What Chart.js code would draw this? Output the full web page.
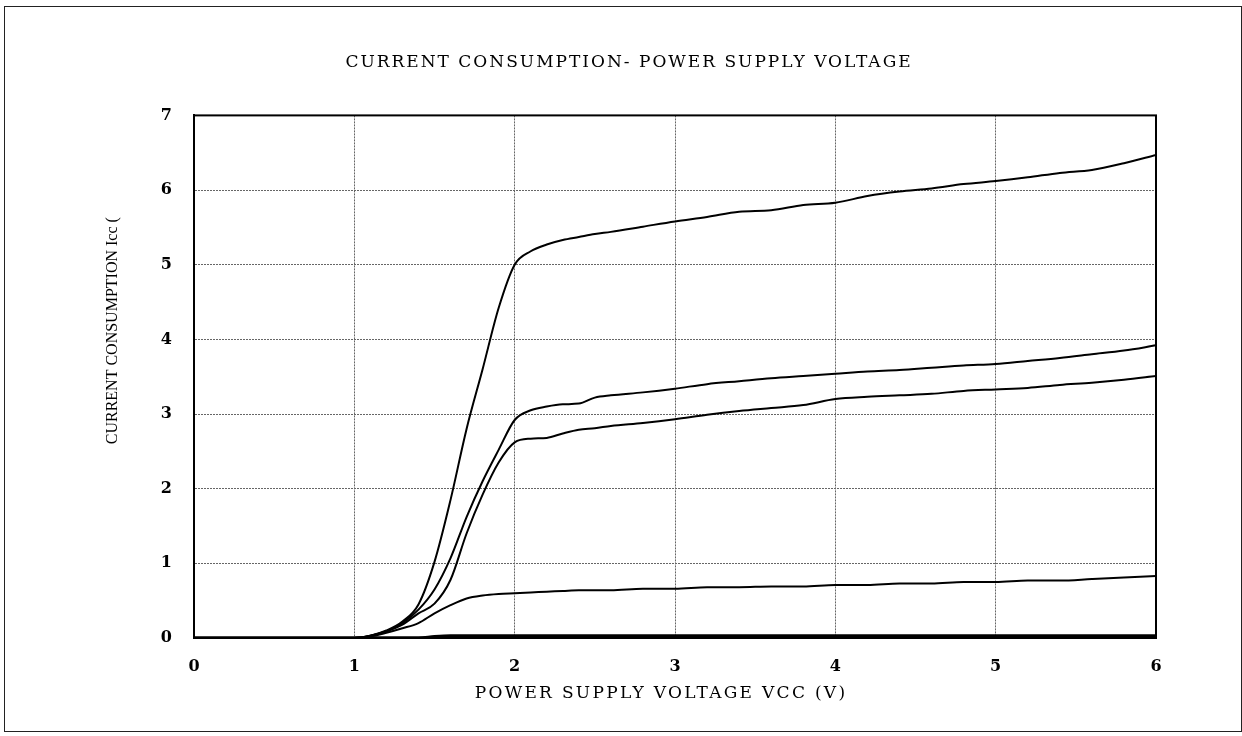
<!DOCTYPE html>
<html><head><meta charset="utf-8">
<script src="https://cdn.jsdelivr.net/npm/chart.js@4.4.1/dist/chart.umd.min.js"></script>
<style>
html,body{margin:0;padding:0;background:#fff;overflow:hidden}
#wrap{position:relative;width:1242px;height:736px}
#frame{position:absolute;left:4px;top:6px;width:1238px;height:726px;border:1px solid #222;box-sizing:border-box;pointer-events:none}
</style></head><body>
<div id="wrap"><canvas id="c" width="1242" height="736"></canvas><div id="frame"></div></div>
<script>
// ---- data ----
const voltage = [0, 1.0, 1.1, 1.2, 1.3, 1.4, 1.5, 1.6, 1.7, 1.8, 1.9, 2.0, 2.1, 2.2, 2.3, 2.4, 2.5, 2.6, 2.8, 3.0, 3.2, 3.4, 3.6, 3.8, 4.0, 4.2, 4.4, 4.6, 4.8, 5.0, 5.2, 5.4, 5.6, 5.8, 6.0];
const iccA = [0, 0, 0.03, 0.10, 0.22, 0.45, 1.02, 1.85, 2.80, 3.60, 4.42, 5.00, 5.18, 5.27, 5.33, 5.37, 5.41, 5.44, 5.51, 5.58, 5.64, 5.71, 5.73, 5.80, 5.83, 5.92, 5.98, 6.02, 6.08, 6.12, 6.17, 6.23, 6.27, 6.36, 6.47];
const iccB = [0, 0, 0.03, 0.09, 0.20, 0.38, 0.65, 1.07, 1.62, 2.10, 2.52, 2.92, 3.05, 3.10, 3.13, 3.14, 3.22, 3.25, 3.29, 3.34, 3.40, 3.44, 3.48, 3.51, 3.54, 3.57, 3.59, 3.62, 3.65, 3.67, 3.71, 3.75, 3.80, 3.85, 3.92];
const iccC = [0, 0, 0.03, 0.09, 0.18, 0.33, 0.46, 0.78, 1.40, 1.92, 2.35, 2.62, 2.67, 2.68, 2.74, 2.79, 2.81, 2.84, 2.88, 2.93, 2.99, 3.04, 3.08, 3.12, 3.20, 3.23, 3.25, 3.27, 3.31, 3.33, 3.35, 3.39, 3.42, 3.46, 3.51];
const iccD = [0, 0, 0.02, 0.07, 0.13, 0.20, 0.33, 0.44, 0.53, 0.57, 0.59, 0.60, 0.61, 0.62, 0.63, 0.64, 0.64, 0.64, 0.66, 0.66, 0.68, 0.68, 0.69, 0.69, 0.71, 0.71, 0.73, 0.73, 0.75, 0.75, 0.77, 0.77, 0.79, 0.81, 0.83];
const iccE = [0, 0, 0, 0, 0, 0, 0, 0, 0, 0, 0, 0, 0, 0, 0, 0, 0, 0, 0, 0, 0, 0, 0, 0, 0, 0, 0, 0, 0, 0, 0, 0, 0, 0, 0];
const iccF = [0, 0, 0, 0, 0, 0, 0.02, 0.03, 0.03, 0.03, 0.03, 0.03, 0.03, 0.03, 0.03, 0.03, 0.03, 0.03, 0.03, 0.03, 0.03, 0.03, 0.03, 0.03, 0.03, 0.03, 0.03, 0.03, 0.03, 0.03, 0.03, 0.03, 0.03, 0.03, 0.03];
const xTicks = [0, 1, 2, 3, 4, 5, 6];
const yTicks = [0, 1, 2, 3, 4, 5, 6, 7];
const titleText = 'CURRENT CONSUMPTION- POWER SUPPLY VOLTAGE';
const xTitle = 'POWER SUPPLY VOLTAGE VCC (V)';
const yTitle = 'CURRENT CONSUMPTION Icc (';

const series = [
  {name: 'A', values: iccA, width: 2},
  {name: 'B', values: iccB, width: 2},
  {name: 'C', values: iccC, width: 2},
  {name: 'D', values: iccD, width: 2},
  {name: 'E', values: iccE, width: 3},
  {name: 'F', values: iccF, width: 3}
];

const SERIF = '"DejaVu Serif", "Liberation Serif", serif';
const YSERIF = '"Liberation Serif", "DejaVu Serif", serif';

const textTweaks = {
  id: 'textTweaks',
  beforeDraw(chart) {
    if (chart.__tw) return;
    chart.__tw = true;
    const ctx = chart.ctx;
    const tb = chart.titleBlock;
    const tbDraw = tb.draw;
    tb.draw = function (a) { ctx.save(); ctx.letterSpacing = '2px'; ctx.translate(51, 0); tbDraw.call(this, a); ctx.restore(); };
    const xs = chart.scales.x;
    const xDraw = xs.drawTitle;
    xs.drawTitle = function () { ctx.save(); ctx.letterSpacing = '2.3px'; ctx.translate(-14, 0); xDraw.call(this); ctx.restore(); };
    const ys = chart.scales.y;
    const yDraw = ys.drawTitle;
    ys.drawTitle = function () { ctx.save(); ctx.translate(0, -46); yDraw.call(this); ctx.restore(); };
  },
  afterDatasetsDraw(chart) {
    const {ctx, chartArea: a} = chart;
    ctx.save();
    ctx.strokeStyle = '#000';
    ctx.lineWidth = 2;
    ctx.strokeRect(a.left, a.top, a.right - a.left, a.bottom - a.top);
    ctx.restore();
  }
};

new Chart(document.getElementById('c'), {
  type: 'line',
  data: {
    datasets: series.map(s => ({
      label: s.name,
      data: voltage.map((v, i) => ({x: v, y: s.values[i]})),
      borderColor: '#000',
      backgroundColor: '#000',
      borderWidth: s.width,
      pointRadius: 0,
      cubicInterpolationMode: 'monotone',
      fill: false
    }))
  },
  options: {
    responsive: false,
    animation: false,
    events: [],
    layout: {padding: {left: 0, top: 0, right: 86, bottom: 0}},
    plugins: {
      legend: {display: false},
      tooltip: {enabled: false},
      title: {
        display: true,
        text: titleText,
        color: '#000',
        font: {family: SERIF, size: 17, weight: 'normal', lineHeight: 1.2},
        padding: {top: 52, bottom: 43}
      }
    },
    scales: {
      x: {
        type: 'linear',
        min: 0, max: 6,
        afterBuildTicks: sc => { sc.ticks = xTicks.map(v => ({value: v})); },
        afterFit: sc => { sc.height = 98; },
        grid: {color: '#666', lineWidth: 1, drawTicks: false},
        border: {display: true, color: '#000', width: 2, dash: [2, 1]},
        ticks: {color: '#000', padding: 19, font: {family: SERIF, size: 16, weight: 'bold'}, maxRotation: 0},
        title: {display: true, text: xTitle, color: '#000', font: {family: SERIF, size: 17, weight: 'normal', lineHeight: 1.2}, padding: {top: 0, bottom: 32}}
      },
      y: {
        type: 'linear',
        min: 0, max: 7,
        afterBuildTicks: sc => { sc.ticks = yTicks.map(v => ({value: v})); },
        afterFit: sc => { sc.width = 194; },
        grid: {color: '#666', lineWidth: 1, drawTicks: false},
        border: {display: true, color: '#000', width: 2, dash: [2, 1]},
        ticks: {color: '#000', padding: 22, font: {family: SERIF, size: 16, weight: 'bold'}},
        title: {display: true, text: yTitle, color: '#000', font: {family: YSERIF, size: 16, weight: 'normal', lineHeight: 1.2}, padding: {top: 103, bottom: 0}}
      }
    }
  },
  plugins: [textTweaks]
});
</script>
</body></html>
